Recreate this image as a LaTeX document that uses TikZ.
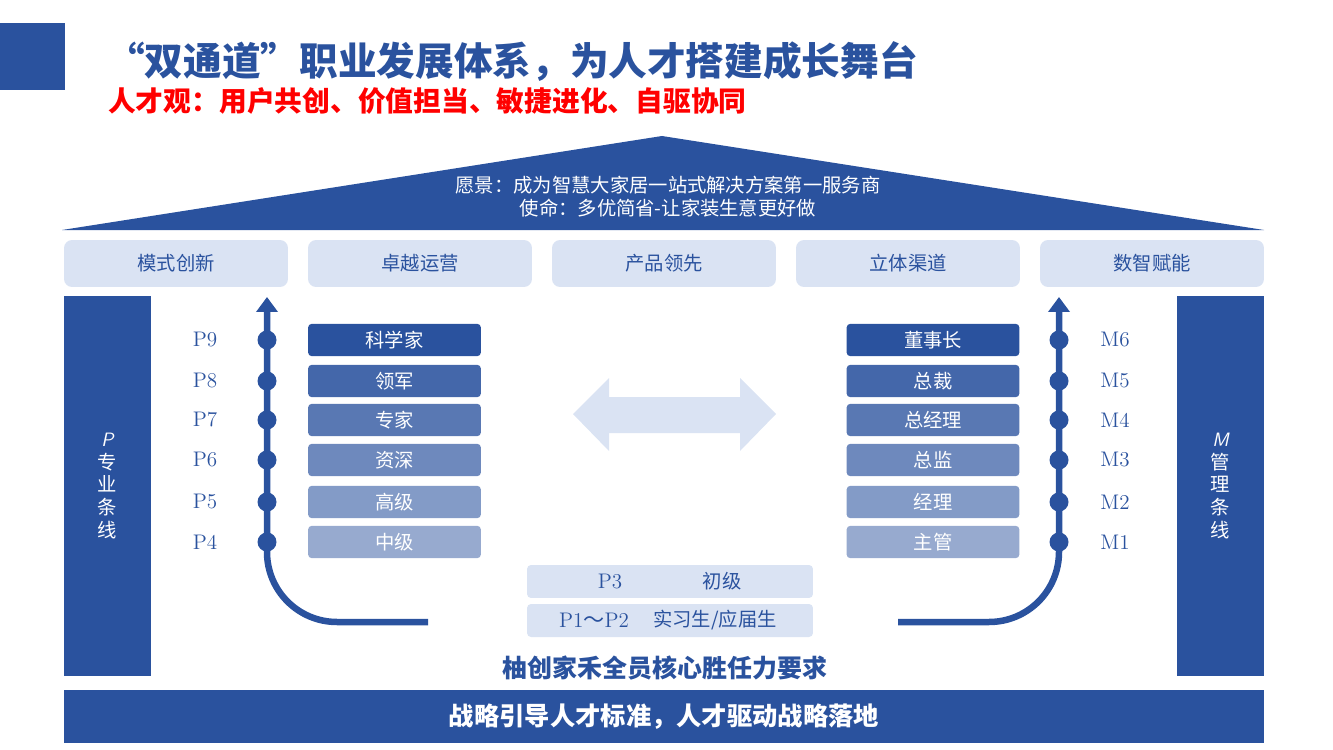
\documentclass[tikz,border=0pt]{standalone}
\usepackage{fontspec}
\newfontfamily\cjk{Noto Sans CJK SC}
\usetikzlibrary{arrows.meta,positioning}
\definecolor{mainblue}{RGB}{42,82,158}
\definecolor{paleblue}{RGB}{218,227,243}
\definecolor{titlered}{RGB}{255,0,0}

\begin{document}
\begin{tikzpicture}[
    x=0.02cm, y=-0.02cm,
    pillar/.style={rectangle, fill=paleblue, rounded corners=0.16cm, minimum width=4.48cm, minimum height=0.94cm, text=mainblue, font=\cjk\fontsize{11}{13}\selectfont},
    rank/.style={rectangle, rounded corners=0.08cm, minimum width=3.46cm, minimum height=0.65cm, text=white, font=\cjk\fontsize{11}{13}\selectfont},
    level/.style={text=mainblue, font=\fontsize{12}{14}\selectfont},
    dot/.style={circle, fill=mainblue, minimum size=0.38cm, inner sep=0pt},
    track/.style={draw=mainblue, line width=0.13cm, rounded corners=1.4cm, -{Triangle[width=0.42cm,length=0.3cm]}},
    sidebar/.style={rectangle, fill=mainblue, minimum width=1.74cm, minimum height=7.6cm, text=white, align=center, font=\cjk\fontsize{11}{13}\selectfont},
    entry/.style={rectangle, fill=paleblue, rounded corners=0.08cm, minimum width=5.72cm, minimum height=0.66cm},
    entrytext/.style={text=mainblue, font=\cjk\fontsize{11}{13}\selectfont}
]
    \useasboundingbox (0,0) rectangle (1333,750);

    % header
    \fill[mainblue] (0,23) rectangle (65,90);
    \node[anchor=west, text=mainblue, font=\cjk\bfseries\fontsize{22}{26}\selectfont] (title) at (100,62) {“双通道”职业发展体系，为人才搭建成长舞台};
    \node[anchor=west, text=titlered, font=\cjk\bfseries\fontsize{15.8}{18}\selectfont] (subtitle) at (102,101) {人才观：用户共创、价值担当、敏捷进化、自驱协同};

    % roof
    \fill[mainblue] (62,230) -- (662,136) -- (1264,230) -- cycle;
    \node[align=center, text=white, font=\cjk\fontsize{11}{13}\selectfont] (vision) at (668,197) {愿景：成为智慧大家居一站式解决方案第一服务商\\使命：多优简省-让家装生意更好做};

    % pillars
    \foreach \name/\xx [count=\i] in {模式创新/176, 卓越运营/420, 产品领先/664, 立体渠道/908, 数智赋能/1152}
        \node[pillar] (pillar\i) at (\xx,263.5) {\name};

    % side bars
    \node[sidebar] (pline) at (107.5,486) {{\sffamily\itshape P}\\专\\业\\条\\线};
    \node[sidebar] (mline) at (1220.5,486) {{\sffamily\itshape M}\\管\\理\\条\\线};

    % tracks
    \coordinate (lfoot) at (428,622);
    \coordinate (ltip) at (267,297);
    \coordinate (rfoot) at (898,622);
    \coordinate (rtip) at (1059,297);
    \draw[track] (lfoot) -| (ltip);
    \draw[track] (rfoot) -| (rtip);

    % professional ranks
    \foreach \lbl/\name/\yy/\shade [count=\i] in {P9/科学家/340/100, P8/领军/381/88, P7/专家/420/78, P6/资深/460/68, P5/高级/502/58, P4/中级/542/49} {
        \node[rank, fill=mainblue!\shade!white] (lrank\i) at (394.5,\yy) {\name};
        \node[dot] (ldot\i) at (267,\yy) {};
        \node[level] (llevel\i) at (205,\yy) {\lbl};
    }

    % management ranks
    \foreach \lbl/\name/\yy/\shade [count=\i] in {M6/董事长/340/100, M5/总裁/381/88, M4/总经理/420/78, M3/总监/460/68, M2/经理/502/58, M1/主管/542/49} {
        \node[rank, fill=mainblue!\shade!white] (rrank\i) at (933,\yy) {\name};
        \node[dot] (rdot\i) at (1059,\yy) {};
        \node[level] (rlevel\i) at (1115,\yy) {\lbl};
    }

    % double arrow
    \fill[paleblue] (573,414) -- (609,378) -- (609,397) -- (740,397) -- (740,378) -- (776,414)
        -- (740,451) -- (740,433) -- (609,433) -- (609,451) -- cycle;

    % entry levels
    \node[entry] (p3box) at (670,581.5) {};
    \node[entrytext] (p3lvl) at (610,581.5) {\rmfamily\fontsize{12}{14}\selectfont P3};
    \node[entrytext] (p3name) at (722,581.5) {初级};
    \node[entry] (p1box) at (670,620.5) {};
    \node[entrytext] (p1lvl) at (594,620.5) {\rmfamily\fontsize{12}{14}\selectfont P1{\cjk ～}P2};
    \node[entrytext] (p1name) at (715,620.5) {实习生/应届生};

    % footer
    \node[text=mainblue, font=\cjk\bfseries\fontsize{14.2}{16}\selectfont] (core) at (665,668) {柚创家禾全员核心胜任力要求};
    \node[rectangle, fill=mainblue, minimum width=24cm, minimum height=1.06cm, text=white, font=\cjk\bfseries\fontsize{14.4}{16}\selectfont] (strategy) at (664,716.5) {战略引导人才标准，人才驱动战略落地};
\end{tikzpicture}
\end{document}
